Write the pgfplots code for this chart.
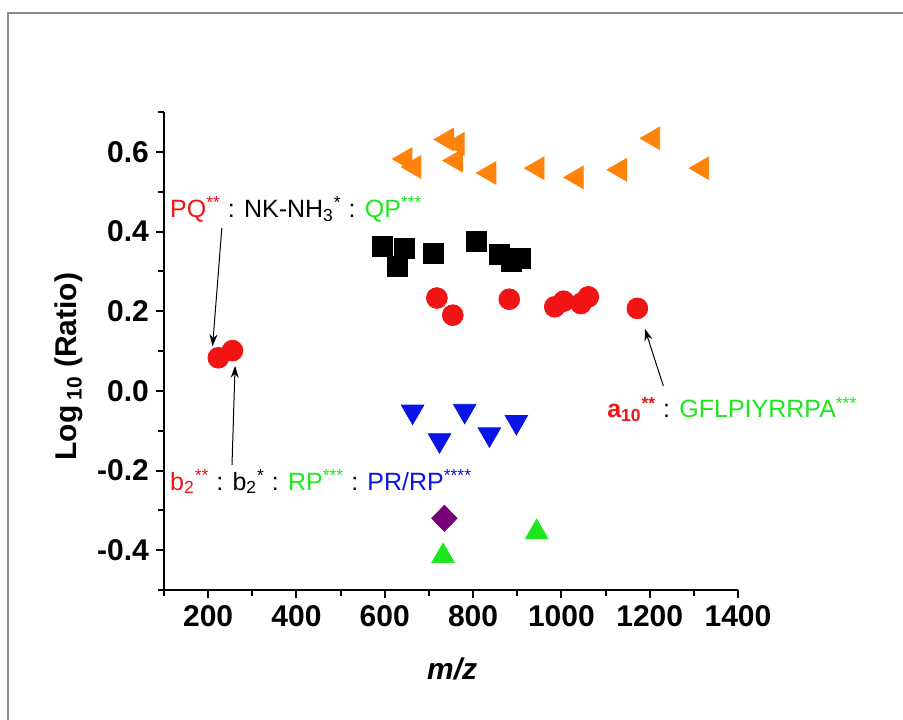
\documentclass[border=0pt]{standalone}
\usepackage{pgfplots}
\pgfplotsset{compat=1.18}
\usepackage{fontspec}
\setmainfont{Liberation Sans}
\usetikzlibrary{arrows.meta}

\definecolor{cred}{RGB}{240,20,20}
\definecolor{corange}{RGB}{255,130,10}
\definecolor{cblue}{RGB}{10,20,230}
\definecolor{cgreen}{RGB}{30,230,30}
\definecolor{cpurple}{RGB}{120,0,120}
\definecolor{frame}{RGB}{140,140,140}

\newcommand{\sups}[1]{\textsuperscript{#1}}
\newcommand{\subs}[1]{\textsubscript{#1}}

\begin{document}
\begin{tikzpicture}
\begin{axis}[
 at={(0,0)}, anchor=south west,
 scale only axis,
 width=287pt, height=239pt,
 xmin=100, xmax=1400,
 ymin=-0.5, ymax=0.7,
 axis x line*=bottom,
 axis y line*=left,
 axis line style={line width=1.2pt},
 xtick={200,400,...,1400},
 minor xtick={100,300,...,1300},
 ytick={-0.4,-0.2,0,0.2,0.4,0.6},
 minor ytick={-0.5,-0.3,-0.1,0.1,0.3,0.5,0.7},
 tick align=outside,
 major tick length=4pt,
 minor tick length=3pt,
 every tick/.style={black, line width=1pt},
 tick label style={font=\fontsize{15}{15}\selectfont\bfseries},
 /pgf/number format/assume math mode=true,
 yticklabel style={/pgf/number format/.cd, fixed, fixed zerofill, precision=1},
 xticklabel style={/pgf/number format/1000 sep={}},
 every axis y label/.style={at={(axis description cs:-0.165,0.467)}, rotate=90, anchor=center},
 every axis x label/.style={at={(axis description cs:0.502,-0.165)}, anchor=center},
 ylabel={\fontsize{15}{15}\selectfont\bfseries Log\,\subs{10} (Ratio)},
 xlabel={\fontsize{15}{15}\selectfont\bfseries\itshape m/z},
 clip=false,
]
% orange, left-pointing triangles
\addplot[only marks, mark=triangle*, mark size=6.5pt, color=corange,
 mark options={rotate=90}] coordinates {
 (647,0.582) (667,0.562) (741,0.631) (765,0.620) (761,0.578) (837,0.547)
 (946,0.559) (1035,0.536) (1133,0.555) (1208,0.634) (1319,0.559)};
% black squares
\addplot[only marks, mark=square*, mark size=5pt, color=black] coordinates {
 (594,0.363) (644,0.357) (628,0.313) (711,0.346) (807,0.374) (860,0.343)
 (887,0.326) (907,0.332)};
% red circles
\addplot[only marks, mark=*, mark size=5.2pt, color=cred] coordinates {
 (223,0.083) (255,0.101) (718,0.233) (754,0.190) (882,0.230) (985,0.211)
 (1005,0.225) (1044,0.219) (1061,0.236) (1172,0.207)};
% blue, down-pointing triangles
\addplot[only marks, mark=triangle*, mark size=6.5pt, color=cblue,
 mark options={rotate=180}] coordinates {
 (663,-0.052) (724,-0.124) (781,-0.050) (837,-0.109) (898,-0.078)};
% purple diamond
\addplot[only marks, mark=diamond*, mark size=6.5pt, color=cpurple,
 mark options={xscale=1.3}] coordinates {
 (735,-0.320)};
% green triangles
\addplot[only marks, mark=triangle*, mark size=6.5pt, color=cgreen] coordinates {
 (732,-0.415) (944,-0.355)};

% annotations
\begin{scope}[font=\fontsize{12.5}{12.5}\selectfont]
\node[anchor=base west, inner sep=0pt] at (axis cs:113,0.436)
 {{\color{cred}PQ\sups{**}} : NK-NH\subs{3}\sups{*} : {\color{cgreen}QP\sups{***}}};
\node[anchor=base west, inner sep=0pt] at (axis cs:113,-0.249)
 {{\color{cred}b\subs{2}\sups{**}} : b\subs{2}\sups{*} : {\color{cgreen}RP\sups{***}} : {\color{cblue}PR/RP\sups{****}}};
\node[anchor=base west, inner sep=0pt] at (axis cs:1103,-0.068)
 {{\color{cred}\bfseries a\subs{10}\sups{**}} : {\color{cgreen}GFLPIYRRPA\sups{***}}};
\end{scope}
\draw[-{Stealth[length=6pt,width=4pt]}, line width=0.5pt] (axis cs:231,0.409) -- (axis cs:210,0.112);
\draw[-{Stealth[length=6pt,width=4pt]}, line width=0.5pt] (axis cs:254,-0.186) -- (axis cs:261,0.063);
\draw[-{Stealth[length=6pt,width=4pt]}, line width=0.5pt] (axis cs:1231,0.012) -- (axis cs:1189,0.156);
\end{axis}
% panel frame (left and top edges visible)
\draw[frame, line width=1pt] (-77.75pt,-80pt) -- (-77.75pt,288.5pt) -- (380pt,288.5pt);
\pgfresetboundingbox
\useasboundingbox (-82pt,-64.5pt) rectangle (369.5pt,295pt);
\end{tikzpicture}
\end{document}
